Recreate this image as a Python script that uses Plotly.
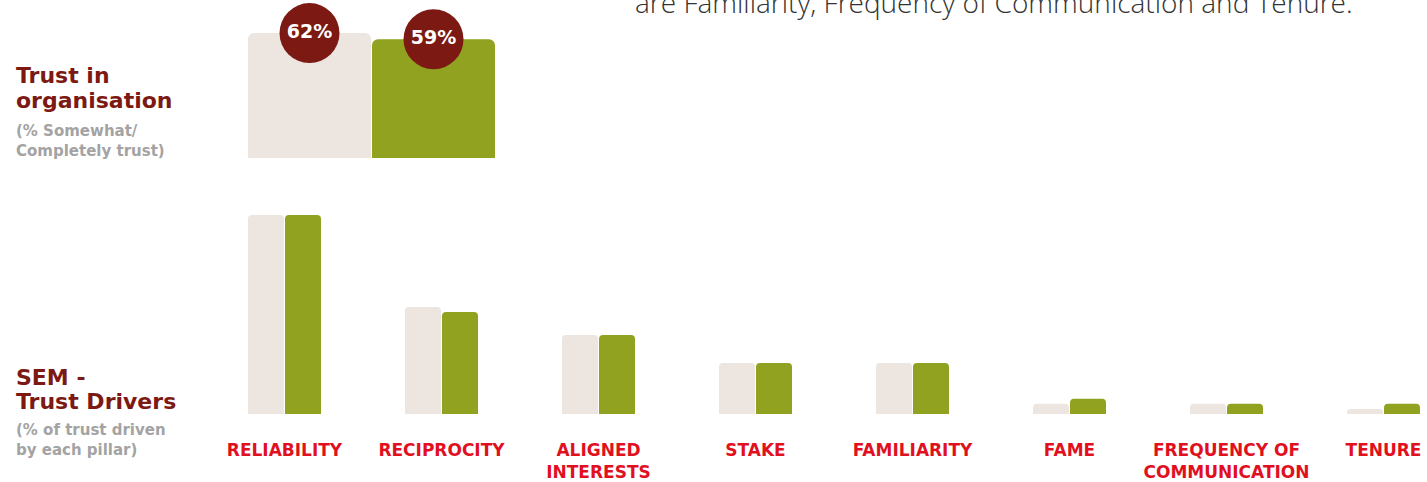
import plotly.graph_objects as go

W, H = 1427, 482

# Trust in organisation (% somewhat / completely trust)
waves = ["Previous wave", "Current wave"]
trust_in_org = [62, 59]

# SEM trust drivers (% of trust driven by each pillar)
drivers = ["RELIABILITY", "RECIPROCITY", "ALIGNED INTERESTS", "STAKE",
           "FAMILIARITY", "FAME", "FREQUENCY OF COMMUNICATION", "TENURE"]
driver_ticks = ["RELIABILITY", "RECIPROCITY", "ALIGNED<br>INTERESTS", "STAKE",
                "FAMILIARITY", "FAME", "FREQUENCY OF<br>COMMUNICATION", "TENURE"]
sem_prev = [39, 21, 15.5, 10, 10, 2, 2, 1]
sem_curr = [39, 20, 15.5, 10, 10, 3, 2, 2]

BEIGE = "#ece5e0"
GREEN = "#90a21f"
MAROON = "#7c1913"
RED = "#e1101f"
GREY = "#a3a3a3"
FONT = "DejaVu Sans"


def px_x(p):
    return p / W


def px_y(p):
    return 1 - p / H


fig = go.Figure()

# top block: trust in organisation
fig.add_trace(
    go.Bar(
        x=waves,
        y=trust_in_org,
        marker=dict(color=[BEIGE, GREEN], cornerradius=6, line=dict(width=0)),
        width=0.992,
        xaxis="x2",
        yaxis="y2",
        hoverinfo="skip",
        showlegend=False,
    )
)
fig.add_trace(
    go.Scatter(
        x=waves,
        y=trust_in_org,
        mode="markers+text",
        marker=dict(size=60, color=MAROON),
        text=[f"{v}%" for v in trust_in_org],
        textposition="middle center",
        textfont=dict(family=FONT, size=19, color="white", weight="bold"),
        cliponaxis=False,
        xaxis="x2",
        yaxis="y2",
        hoverinfo="skip",
        showlegend=False,
    )
)

# bottom block: SEM drivers
gw = 157.0
fig.add_trace(
    go.Bar(
        x=drivers,
        y=sem_prev,
        name=waves[0],
        marker=dict(color=BEIGE, cornerradius=4, line=dict(width=0)),
        width=36 / gw,
        offset=-36.5 / gw,
        hoverinfo="skip",
        showlegend=False,
    )
)
fig.add_trace(
    go.Bar(
        x=drivers,
        y=sem_curr,
        name=waves[1],
        marker=dict(color=GREEN, cornerradius=4, line=dict(width=0)),
        width=36 / gw,
        offset=0.5 / gw,
        hoverinfo="skip",
        showlegend=False,
    )
)

# left side labels
left_lines = [
    ("Trust in", 75, 22, MAROON),
    ("organisation", 100, 22, MAROON),
    ("(% Somewhat/", 131, 15, GREY),
    ("Completely trust)", 151, 15, GREY),
    ("SEM -", 377, 22, MAROON),
    ("Trust Drivers", 401, 22, MAROON),
    ("(% of trust driven", 430, 15, GREY),
    ("by each pillar)", 450, 15, GREY),
]
for txt, yp, size, col in left_lines:
    fig.add_annotation(
        x=px_x(14), y=px_y(yp), xref="paper", yref="paper",
        xanchor="left", yanchor="middle", showarrow=False,
        text=txt,
        font=dict(family=FONT, size=size, color=col, weight="bold"),
    )

# cut-off sentence at top right
fig.add_annotation(
    x=px_x(633), y=px_y(2), xref="paper", yref="paper",
    xanchor="left", yanchor="middle", showarrow=False,
    text="are Familiarity, Frequency of Communication and Tenure.",
    font=dict(family="Open Sans", size=28, color="#333333", weight=300),
)

fig.update_layout(
    width=W,
    height=H,
    margin=dict(l=0, r=0, t=0, b=0),
    paper_bgcolor="white",
    plot_bgcolor="white",
    barmode="overlay",
    xaxis=dict(
        domain=[0, 1],
        range=[-284.5 / gw, (W - 284.5) / gw],
        tickmode="array",
        tickvals=drivers,
        ticktext=driver_ticks,
        tickfont=dict(family=FONT, size=17, color=RED, weight="bold"),
        ticks="",
        ticklabelstandoff=24,
        showgrid=False,
        zeroline=False,
        showline=False,
        fixedrange=True,
    ),
    yaxis=dict(
        domain=[px_y(414), px_y(210)],
        range=[0, 40],
        visible=False,
        fixedrange=True,
    ),
    xaxis2=dict(
        domain=[0, 1],
        anchor="y2",
        range=[-309.5 / 124, (W - 309.5) / 124],
        visible=False,
        fixedrange=True,
    ),
    yaxis2=dict(
        domain=[px_y(158), px_y(17)],
        anchor="x2",
        range=[0, 70],
        visible=False,
        fixedrange=True,
    ),
)

fig.write_html(
    "out.html",
    config={"displayModeBar": False},
    post_script="document.body.style.margin='0';document.body.style.overflow='hidden';",
)
